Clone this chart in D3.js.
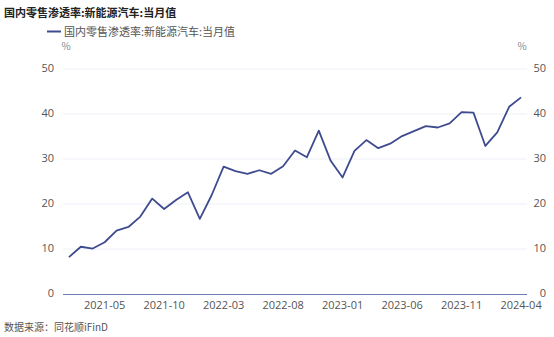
<!DOCTYPE html>
<html><head><meta charset="utf-8">
<script src="https://cdn.jsdelivr.net/npm/d3@7"></script>
<style>body{margin:0;background:#fff}svg{display:block;font-family:"Noto Sans CJK SC","Noto Sans",sans-serif}</style>
</head><body><svg id="c" width="554" height="337"></svg>
<script>
const months = ["2021-02","2021-03","2021-04","2021-05","2021-06","2021-07","2021-08","2021-09","2021-10","2021-11","2021-12",
"2022-01","2022-02","2022-03","2022-04","2022-05","2022-06","2022-07","2022-08","2022-09","2022-10","2022-11","2022-12",
"2023-01","2023-02","2023-03","2023-04","2023-05","2023-06","2023-07","2023-08","2023-09","2023-10","2023-11","2023-12",
"2024-01","2024-02","2024-03","2024-04"];
const values = [8.2,10.5,10.1,11.5,14.1,14.9,17.2,21.2,18.9,20.9,22.6,
16.7,22.0,28.3,27.3,26.7,27.5,26.7,28.4,31.9,30.4,36.3,29.6,
25.9,31.8,34.2,32.4,33.4,35.1,36.2,37.3,37.0,37.9,40.4,40.3,
32.9,35.9,41.6,43.7];
const yTicks = [0,10,20,30,40,50];
const xTickLabels = ["2021-05","2021-10","2022-03","2022-08","2023-01","2023-06","2023-11","2024-04"];
const title = "国内零售渗透率:新能源汽车:当月值";
const source = "数据来源：同花顺iFinD";

const svg = d3.select("#c");
const L=63,R=527,T=69,B=294;
const x = d3.scaleBand().domain(months).range([L,R]);
const y = d3.scaleLinear().domain([0,50]).range([B,T]);
const lineColor="#3f4b8f", txt="#555";
const numFont='"Open Sans","Noto Sans",sans-serif';

svg.append("text").attr("x",4).attr("y",17).attr("font-size",11).attr("font-weight","bold").attr("fill","#222").text(title);
svg.append("line").attr("x1",47).attr("x2",61).attr("y1",31.5).attr("y2",31.5).attr("stroke",lineColor).attr("stroke-width",2);
svg.append("text").attr("x",64).attr("y",35.5).attr("font-size",11).attr("fill",txt).text(title);
svg.append("text").attr("x",66).attr("y",50).attr("font-size",10).attr("fill","#888").attr("text-anchor","middle").text("%");
svg.append("text").attr("x",522).attr("y",50).attr("font-size",10).attr("fill","#888").attr("text-anchor","middle").text("%");

// grid
svg.append("g").selectAll("line").data(yTicks.filter(d=>d>0)).join("line")
  .attr("x1",L).attr("x2",R).attr("y1",d=>y(d)).attr("y2",d=>y(d)).attr("stroke","#edf0f6").attr("stroke-width",1);

const la = svg.append("g").attr("transform",`translate(${L-9},0)`).call(d3.axisLeft(y).tickValues(yTicks).tickSize(0).tickPadding(0));
const ra = svg.append("g").attr("transform",`translate(${R+19},0)`).call(d3.axisRight(y).tickValues(yTicks).tickSize(0).tickPadding(0));
[la,ra].forEach(g=>{g.select(".domain").remove();g.selectAll("text").attr("font-size",11).attr("fill",txt).attr("font-family",numFont).attr("dy","0.24em").attr("text-anchor","end");});

const xa = svg.append("g").attr("transform",`translate(0,${B})`).call(d3.axisBottom(x).tickValues(xTickLabels).tickSize(0).tickPadding(6));
xa.select(".domain").attr("stroke","#6f7bb3").attr("d",`M${L},0.5H${R}`);
xa.selectAll("text").attr("font-size",11).attr("fill",txt).attr("font-family",numFont).attr("dy","0.8em");

svg.append("path").datum(values).attr("fill","none").attr("stroke",lineColor).attr("stroke-width",1.8).attr("stroke-linejoin","round")
  .attr("d",d3.line().x((d,i)=>x(months[i])+x.bandwidth()/2).y(d=>y(d)));

svg.append("text").attr("x",4).attr("y",331).attr("font-size",10).attr("fill",txt).text(source);
</script></body></html>
